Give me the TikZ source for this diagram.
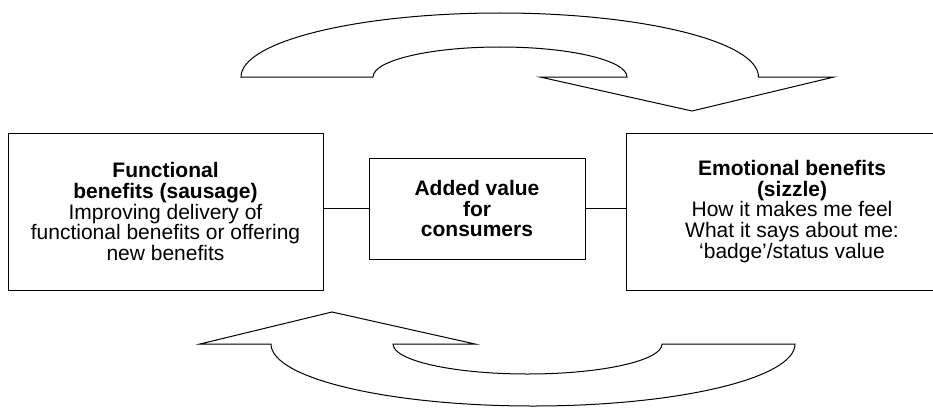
\documentclass[tikz,border=0pt]{standalone}
\usepackage{fontspec}
\setmainfont{Liberation Sans}
\begin{document}
\begin{tikzpicture}[x=1pt,y=1pt,
  line join=miter,
  outline/.style={draw=black, line width=1pt, fill=white},
  box/.style={draw=black, line width=1pt, fill=white, align=center, inner sep=0pt,
    font=\fontsize{21}{20.7}\selectfont},
  link/.style={draw=black, line width=1pt}]
\useasboundingbox (0,0) rectangle (933,408);
\begin{scope}
\clip (0,0) rectangle (933,408);
% top curved arrow
\draw[outline] (241,331) -- (373,331)
  arc[start angle=180, end angle=0, x radius=127pt, y radius=30pt]
  -- (540,331) -- (692,297) -- (834,331) -- (758.5,331)
  arc[start angle=0, end angle=180, x radius=258.75pt, y radius=64pt] -- cycle;
% bottom curved arrow
\draw[outline] (795,64) -- (662,64)
  arc[start angle=0, end angle=-180, x radius=134.5pt, y radius=30pt]
  -- (475,64) -- (332,96) -- (200,64) -- (271,64)
  arc[start angle=180, end angle=360, x radius=262pt, y radius=62pt] -- cycle;
% boxes
\node[box, minimum width=315pt, minimum height=157pt] (L) at (165.5,196.5)
  {\textbf{Functional}\\\textbf{benefits (sausage)}\\Improving delivery of\\functional benefits or offering\\new benefits};
\node[box, minimum width=216pt, minimum height=101pt] (M) at (477,199.5)
  {\textbf{Added value}\\\textbf{for}\\\textbf{consumers}};
\node[box, minimum width=332pt, minimum height=157pt] (R) at (792,196.5)
  {\textbf{Emotional benefits}\\\textbf{(sizzle)}\\How it makes me feel\\What it says about me:\\‘badge’/status value};
\draw[link] (M.west) -- (M.west -| L.east);
\draw[link] (M.east) -- (M.east -| R.west);
\end{scope}
\end{tikzpicture}
\end{document}
